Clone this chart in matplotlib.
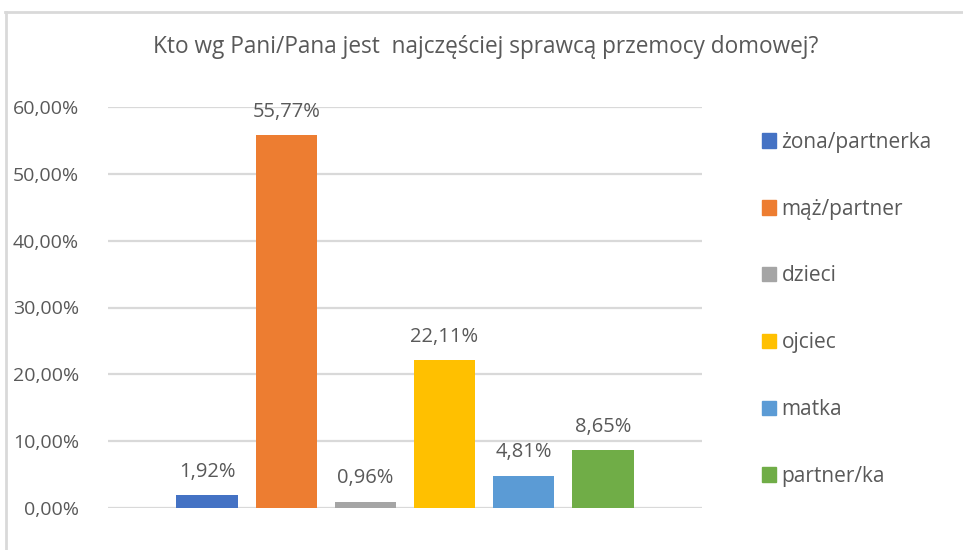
import matplotlib
matplotlib.use('Agg')
import matplotlib.pyplot as plt
from matplotlib.patches import Patch
from matplotlib.lines import Line2D
import numpy as np

TITLE = 'Kto wg Pani/Pana jest  najczęściej sprawcą przemocy domowej?'
categories = ['żona/partnerka', 'mąż/partner', 'dzieci', 'ojciec', 'matka', 'partner/ka']
values = [1.92, 55.77, 0.96, 22.11, 4.81, 8.65]
colors = ['#4472C4', '#ED7D31', '#A5A5A5', '#FFC000', '#5B9BD5', '#70AD47']
yticks = [0, 10, 20, 30, 40, 50, 60]

TEXT = '#595959'
GRID = '#d9d9d9'

plt.rcParams['font.family'] = ['Open Sans', 'DejaVu Sans']

fig = plt.figure(figsize=(9.63, 5.5), dpi=100)
ax = fig.add_axes([108 / 963, 42 / 550, 594 / 963, 401 / 550])

x = np.arange(len(values))
ax.bar(x, values, width=0.78, color=colors, zorder=3)

for xi, v in zip(x, values):
    lbl = f'{v:.2f}%'.replace('.', ',')
    ax.text(xi, v + 2.0, lbl, ha='center', va='bottom', fontsize=14.5, color=TEXT)

ax.set_xlim(-1.255, 6.255)
ax.set_ylim(0, 60)
ax.set_yticks(yticks)
ax.set_yticklabels([f'{t:.2f}%'.replace('.', ',') for t in yticks], fontsize=14, color=TEXT)
ax.set_xticks([])
ax.tick_params(axis='y', length=0, pad=21)
ax.yaxis.grid(True, color=GRID, linewidth=1.6, zorder=0)
for s in ax.spines.values():
    s.set_visible(False)

fig.text(486 / 963, 1 - 47 / 550, TITLE, ha='center', va='center', fontsize=16.3, color=TEXT)

handles = [Patch(facecolor=c, edgecolor=c) for c in colors]
leg = fig.legend(handles, categories, loc='upper left', bbox_to_anchor=(743 / 963, 1 - 113 / 550),
                 frameon=False, fontsize=15, labelcolor=TEXT, handlelength=0.7, handleheight=0.7,
                 handletextpad=0.25, labelspacing=2.2)

# chart frame (top and left edges only, the rest is cropped away)
fig.add_artist(Line2D([5 / 963, 962 / 963], [1 - 12 / 550, 1 - 12 / 550], color=GRID, linewidth=2))
fig.add_artist(Line2D([6 / 963, 6 / 963], [0, 1 - 12 / 550], color=GRID, linewidth=2))

fig.savefig('out.png', dpi=100)
